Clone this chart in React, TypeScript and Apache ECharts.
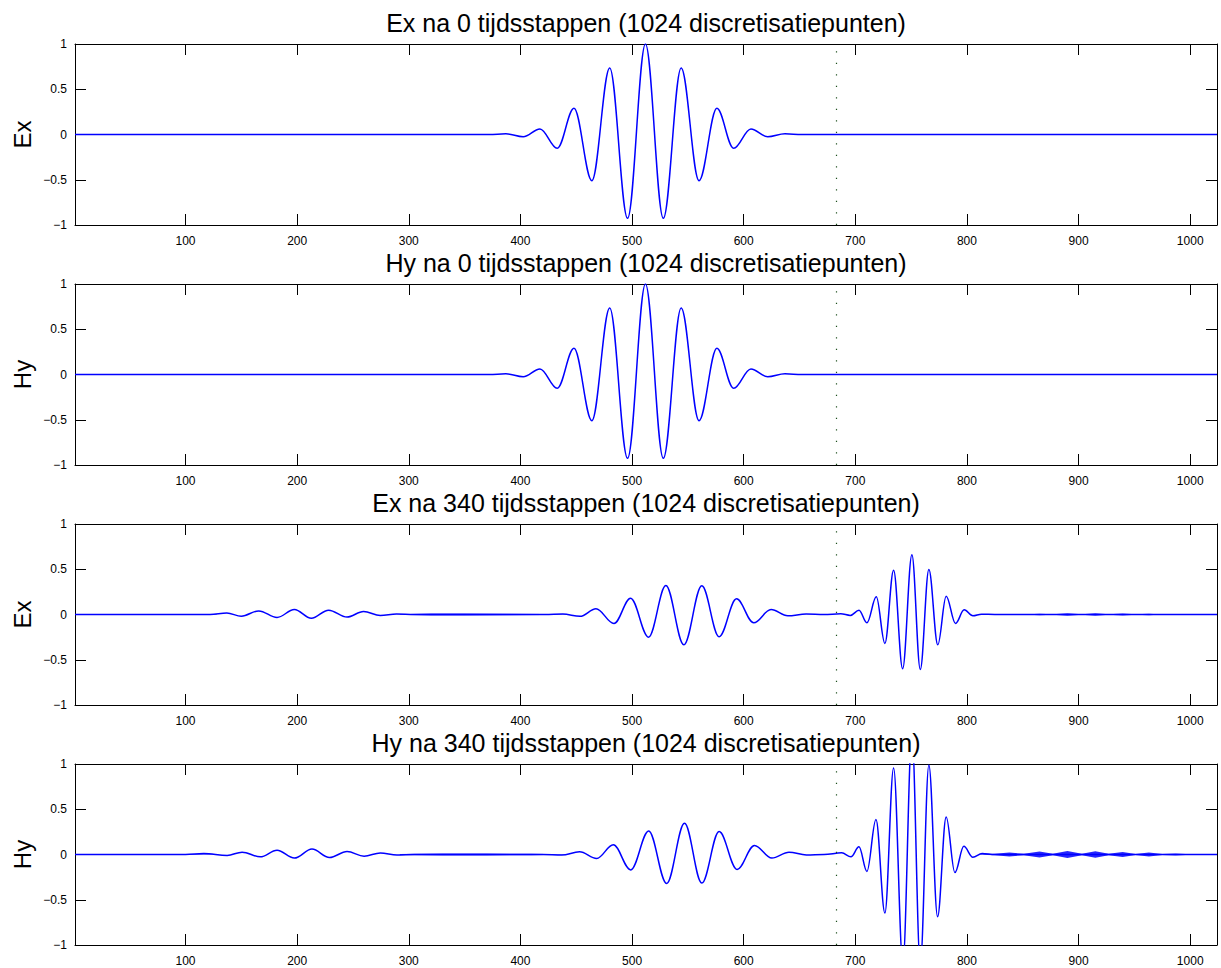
import React, { useEffect, useRef } from 'react';
import * as echarts from 'echarts';

type Pt = [number, number];

// Field profiles: local extrema [grid point, amplitude] along the 1024-point line.
const exStep0: Pt[] = [
  [1, 0], [372, 0], [387, 0.008], [402.5, -0.025], [417.5, 0.062], [433, -0.152],
  [448, 0.29], [464, -0.51], [480, 0.736], [496, -0.926], [512, 1.0], [528, -0.926],
  [544, 0.736], [560, -0.51], [576, 0.29], [591, -0.152], [606.5, 0.062],
  [621.5, -0.025], [637, 0.008], [652, 0], [1024, 0],
];

const hyStep0: Pt[] = [
  [1, 0], [372, 0], [387, 0.008], [402.5, -0.025], [417.5, 0.062], [433, -0.152],
  [448, 0.29], [464, -0.51], [480, 0.736], [496, -0.926], [512, 1.0], [528, -0.926],
  [544, 0.736], [560, -0.51], [576, 0.29], [591, -0.152], [606.5, 0.062],
  [621.5, -0.025], [637, 0.008], [652, 0], [1024, 0],
];

const exStep340: Pt[] = [
  [1, 0], [122, 0], [137, 0.016], [150, -0.018], [165.6, 0.04], [182, -0.033],
  [197.5, 0.055], [212.7, -0.042], [228.2, 0.048], [244.7, -0.028], [259.5, 0.033],
  [274.5, -0.01], [289, 0.006], [305, 0], [422, 0], [438, 0.005], [453.4, -0.02],
  [467.7, 0.063], [483.8, -0.099], [498.7, 0.18], [514.8, -0.25], [530.3, 0.32],
  [546.4, -0.335], [562.5, 0.317], [578, -0.246], [593.6, 0.173], [609, -0.092],
  [624.5, 0.055], [639.5, -0.015], [656, 0.005], [672, 0], [687, 0.008],
  [695.5, -0.01], [703.3, 0.047], [710.4, -0.092], [718.8, 0.195], [726.5, -0.32],
  [734.3, 0.489], [742.4, -0.6], [750.7, 0.66], [758.2, -0.607], [765.9, 0.497],
  [773.9, -0.335], [781.4, 0.202], [789.8, -0.099], [797.5, 0.052], [805.3, -0.015],
  [813, 0.003], [825, 0], [1024, 0],
];

const hyStep340: Pt[] = [
  [1, 0], [100, 0], [116.4, 0.01], [137.3, -0.011], [150.7, 0.026], [167, -0.026],
  [182, 0.047], [197.5, -0.04], [213.3, 0.06], [229, -0.033], [244.7, 0.033],
  [260, -0.018], [274.5, 0.016], [289.4, -0.006], [305, 0], [420, 0], [437, -0.006],
  [453, 0.03], [468.3, -0.044], [483.2, 0.107], [498.8, -0.17], [514.9, 0.26],
  [531, -0.32], [547, 0.345], [562.5, -0.316], [578, 0.254], [594.1, -0.165],
  [609.7, 0.1], [625.2, -0.04], [640.6, 0.025], [656.2, -0.005], [672, 0],
  [687.8, 0.018], [696.1, -0.026], [703.3, 0.085], [710.4, -0.187], [718.5, 0.386],
  [726.5, -0.647], [734.3, 0.956], [742.6, -1.2], [750.7, 1.32], [758.2, -1.21],
  [765.9, 0.99], [773.7, -0.687], [781.4, 0.415], [789.2, -0.2], [797.2, 0.09],
  [805.3, -0.03], [813.6, 0.012], [825, 0], [1024, 0],
];

// Half-width of the grid-scale (near-Nyquist) ripple, per stretch of the line.
const exStep340Ripple: Pt[][] = [
  [[1, 0.003], [60, 0.004], [128, 0.003]],
  [[292, 0.004], [320, 0.01], [350, 0.012], [390, 0.009], [420, 0.005], [445, 0.001]],
  [[812, 0.001], [825, 0.002], [838, 0.004], [851, 0.001], [865, 0.007], [877, 0.002],
   [890, 0.015], [903, 0.003], [915, 0.015], [927, 0.003], [939.5, 0.011], [951, 0.002],
   [963, 0.007], [975, 0.001], [987, 0.004], [1000, 0.001], [1024, 0.001]],
];

const hyStep340Ripple: Pt[][] = [
  [[1, 0.004], [60, 0.005], [128, 0.004]],
  [[292, 0.005], [330, 0.01], [370, 0.011], [410, 0.008], [445, 0.001]],
  [[812, 0.004], [825, 0.007], [838, 0.022], [851, 0.007], [865, 0.033], [877, 0.008],
   [890, 0.04], [903, 0.008], [915, 0.037], [927, 0.007], [939.5, 0.029], [951, 0.006],
   [963, 0.022], [975, 0.005], [987, 0.011], [1000, 0.004], [1024, 0.003]],
];

const panelTitles = [
  'Ex na 0 tijdsstappen (1024 discretisatiepunten)',
  'Hy na 0 tijdsstappen (1024 discretisatiepunten)',
  'Ex na 340 tijdsstappen (1024 discretisatiepunten)',
  'Hy na 340 tijdsstappen (1024 discretisatiepunten)',
];
const panelLabels = ['Ex', 'Hy', 'Ex', 'Hy'];
const xTicks = [100, 200, 300, 400, 500, 600, 700, 800, 900, 1000];
const interfaceX = 683;

const curves = [exStep0, hyStep0, exStep340, hyStep340];
const ripples: Pt[][][] = [[], [], exStep340Ripple, hyStep340Ripple];

const FONT = '"Liberation Sans", Arial, Helvetica, sans-serif';
const BLUE = '#0000ff';
const GRID_LEFT = 75;
const GRID_WIDTH = 1142;
const GRID_TOP = 44;
const GRID_HEIGHT = 181;
const GRID_STEP = 240;

const fmtY = (v: number) => (v < 0 ? '\u2212' + String(-v) : String(v));
const fmtX = (v: number) => String(v);

function buildOption(): echarts.EChartsOption {
  const grid: any[] = [];
  const xAxis: any[] = [];
  const yAxis: any[] = [];
  const series: any[] = [];
  const graphic: any[] = [];

  const axisLine = { show: true, onZero: false, lineStyle: { color: '#000', width: 1 } };
  const tickStyle = { color: '#000', width: 1 };

  curves.forEach((curve, i) => {
    const top = GRID_TOP + GRID_STEP * i;
    grid.push({ left: GRID_LEFT, top, width: GRID_WIDTH, height: GRID_HEIGHT, show: false, outerBoundsMode: 'none' });

    xAxis.push({
      gridIndex: i, type: 'value', min: 1, max: 1024, position: 'bottom',
      axisLine,
      axisTick: { show: true, inside: true, length: 11, customValues: xTicks, lineStyle: tickStyle },
      axisLabel: { show: true, customValues: xTicks, margin: 10, color: '#000', fontSize: 12, fontFamily: FONT, formatter: fmtX },
      splitLine: { show: false },
    });
    xAxis.push({
      gridIndex: i, type: 'value', min: 1, max: 1024, position: 'top',
      axisLine,
      axisTick: { show: true, inside: true, length: 11, customValues: xTicks, lineStyle: tickStyle },
      axisLabel: { show: false },
      splitLine: { show: false },
    });
    yAxis.push({
      gridIndex: i, type: 'value', min: -1, max: 1, interval: 0.5, position: 'left',
      axisLine,
      axisTick: { show: true, inside: true, length: 11, lineStyle: tickStyle },
      axisLabel: { show: true, margin: 8, color: '#000', fontSize: 12, fontFamily: FONT, formatter: fmtY },
      splitLine: { show: false },
    });
    yAxis.push({
      gridIndex: i, type: 'value', min: -1, max: 1, interval: 0.5, position: 'right',
      axisLine,
      axisTick: { show: true, inside: true, length: 11, lineStyle: tickStyle },
      axisLabel: { show: false },
      splitLine: { show: false },
    });

    // fast ripple drawn as a filled band around zero, through the axis scales
    ripples[i].forEach((seg) => {
      series.push({
        type: 'custom', xAxisIndex: 2 * i, yAxisIndex: 2 * i,
        data: seg, silent: true, z: 2, clip: true,
        renderItem: (params: any, api: any) => {
          if (params.dataIndex !== 0) return null;
          const upper = seg.map(([x, a]) => api.coord([x, a]));
          const lower = seg.slice().reverse().map(([x, a]) => api.coord([x, -a]));
          return {
            type: 'polygon',
            shape: { points: upper.concat(lower), smooth: 0 },
            style: { fill: BLUE, opacity: 0.85 },
          };
        },
      });
    });

    series.push({
      type: 'line', xAxisIndex: 2 * i, yAxisIndex: 2 * i,
      data: curve, symbol: 'none', showSymbol: false,
      smooth: 0.36, smoothMonotone: 'x', clip: true,
      lineStyle: { color: BLUE, width: 1.5 }, z: 3, silent: true,
      markLine: {
        silent: true, symbol: ['none', 'none'], label: { show: false },
        lineStyle: { color: '#1d4f1d', type: [1.2, 10.3], width: 1.2 },
        data: [{ xAxis: interfaceX }],
      },
    });

    graphic.push({
      type: 'text', x: GRID_LEFT + GRID_WIDTH / 2, y: 23 + GRID_STEP * i,
      style: {
        text: panelTitles[i], fontSize: 25, fontFamily: FONT, fill: '#000',
        align: 'center', verticalAlign: 'middle', textAlign: 'center', textVerticalAlign: 'middle',
      },
    });
    graphic.push({
      type: 'text', x: 22, y: top + GRID_HEIGHT / 2, rotation: Math.PI / 2,
      style: {
        text: panelLabels[i], fontSize: 24, fontFamily: FONT, fill: '#000',
        align: 'center', verticalAlign: 'middle', textAlign: 'center', textVerticalAlign: 'middle',
      },
    });
  });

  return {
    animation: false,
    backgroundColor: '#ffffff',
    grid, xAxis, yAxis, series, graphic,
  } as any;
}

export default function App() {
  const ref = useRef<HTMLDivElement>(null);
  useEffect(() => {
    if (!ref.current) return;
    const chart = echarts.init(ref.current, undefined, { renderer: 'svg' });
    chart.setOption(buildOption());
    return () => chart.dispose();
  }, []);
  return (
    <div
      ref={ref}
      style={{ position: 'fixed', left: 0, top: 0, width: 1221, height: 968, background: '#fff' }}
    />
  );
}
